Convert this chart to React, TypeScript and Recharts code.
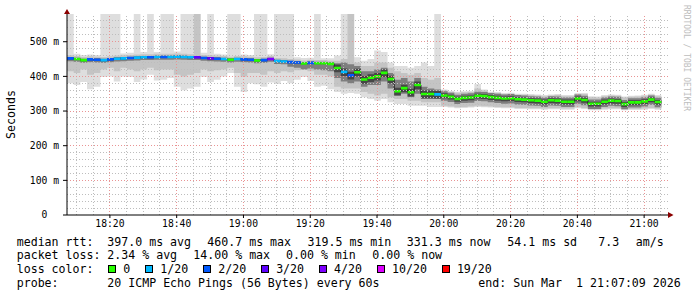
import { Area, ComposedChart, Line, ReferenceDot, ReferenceLine, XAxis, YAxis } from "recharts";

// minutes are counted from the graph start, 18:07:09 (end 21:07:09)
const START_MIN = 18 * 60 + 7 + 9 / 60;
const STEP_MIN = 2;

const timeTicks = ["18:20", "18:40", "19:00", "19:20", "19:40", "20:00", "20:20", "20:40", "21:00"];
const yTicks = [0, 100, 200, 300, 400, 500];

const lossLabels = ["0", "1/20", "2/20", "3/20", "4/20", "10/20", "19/20"];
const lossColors = ["#26ff00", "#00b8ff", "#0059ff", "#5e00ff", "#7e00ff", "#dd00ff", "#ff0000"];

// median rtt in ms, one value per 2 minutes
const median = [
  452, 450, 447, 449, 448, 447, 449, 451, 452, 453,
  454, 455, 455, 456, 456, 456, 457, 456, 455, 455,
  453, 452, 451, 450, 448, 450, 449, 448, 446, 447,
  450, 444, 443, 441, 440, 437, 439, 438, 438, 436,
  424, 413, 403, 412, 391, 396, 400, 410, 392, 357,
  366, 354, 375, 349, 349, 348, 345, 341, 335, 338,
  339, 344, 343, 340, 338, 336, 337, 334, 333, 331,
  330, 327, 331, 330, 327, 327, 336, 332, 321, 321,
  327, 330, 329, 320, 325, 325, 328, 333, 326,
];

// index into lossLabels / lossColors
const lossLevel = [
  2, 0, 0, 2, 2, 1, 2, 1, 1, 2,
  1, 1, 2, 1, 2, 1, 1, 1, 1, 3,
  2, 3, 2, 1, 0, 1, 2, 2, 0, 2,
  4, 1, 1, 2, 2, 0, 2, 0, 0, 0,
  0, 1, 2, 0, 0, 0, 0, 0, 0, 0,
  0, 0, 0, 0, 0, 1, 0, 0, 0, 0,
  0, 0, 0, 0, 0, 0, 0, 0, 0, 0,
  0, 0, 0, 0, 0, 0, 0, 0, 0, 0,
  0, 0, 0, 0, 0, 0, 0, 0, 0,
];

// smoke: ping spread in ms, from the outer (lightest) to the core (darkest) band
const smokeMax = [
  580, 465, 462, 463, 462, 580, 580, 580, 466, 468,
  580, 470, 580, 470, 580, 580, 472, 580, 580, 580,
  468, 580, 465, 463, 580, 580, 463, 462, 580, 580,
  464, 580, 580, 580, 455, 453, 454, 580, 452, 452,
  460, 580, 580, 455, 445, 450, 475, 470, 440, 430,
  430, 425, 430, 440, 430, 580, 362, 358, 356, 357,
  358, 378, 362, 356, 355, 352, 353, 350, 350, 349,
  348, 346, 348, 349, 346, 346, 352, 352, 343, 342,
  346, 348, 347, 342, 344, 345, 347, 350, 346,
];
const smokeMin = [
  380, 375, 384, 363, 370, 398, 400, 385, 400, 398,
  384, 391, 405, 388, 390, 395, 370, 360, 365, 370,
  398, 384, 390, 400, 410, 370, 355, 380, 377, 370,
  382, 378, 387, 380, 390, 398, 387, 370, 373, 363,
  355, 350, 352, 350, 340, 335, 330, 335, 325, 320,
  320, 315, 315, 315, 312, 312, 312, 310, 308, 309,
  310, 312, 311, 310, 309, 308, 308, 306, 306, 305,
  305, 304, 305, 305, 304, 304, 308, 306, 302, 302,
  304, 305, 305, 302, 303, 303, 304, 306, 304,
];
const midHi = [
  461, 459, 456, 458, 457, 456, 458, 460, 461, 462,
  463, 464, 464, 465, 465, 465, 466, 465, 464, 580,
  462, 461, 460, 459, 457, 459, 458, 457, 455, 456,
  459, 453, 452, 450, 449, 446, 448, 447, 447, 445,
  445, 450, 580, 440, 430, 430, 440, 440, 425, 415,
  410, 405, 410, 395, 390, 395, 359, 355, 353, 354,
  355, 365, 359, 353, 352, 349, 350, 347, 347, 346,
  345, 343, 345, 346, 343, 343, 349, 349, 340, 339,
  343, 345, 344, 339, 341, 342, 344, 347, 343,
];
const midLo = [
  415, 410, 420, 405, 410, 420, 425, 415, 425, 420,
  415, 420, 425, 418, 420, 420, 405, 400, 405, 410,
  420, 415, 418, 420, 425, 410, 400, 410, 410, 405,
  415, 410, 415, 412, 418, 420, 415, 405, 405, 400,
  370, 365, 365, 365, 355, 350, 345, 350, 340, 335,
  335, 330, 330, 325, 325, 325, 315, 313, 311, 312,
  313, 315, 314, 313, 312, 311, 311, 309, 309, 308,
  308, 307, 308, 308, 307, 307, 311, 309, 305, 305,
  307, 308, 308, 305, 306, 306, 307, 309, 307,
];
const darkHi = [
  456, 454, 451, 453, 452, 451, 453, 455, 456, 457,
  458, 459, 459, 460, 460, 460, 461, 460, 459, 459,
  457, 456, 455, 454, 452, 454, 453, 452, 450, 451,
  454, 448, 447, 445, 444, 441, 443, 442, 442, 440,
  438, 440, 435, 430, 415, 415, 420, 425, 410, 390,
  395, 385, 395, 370, 365, 362, 357, 353, 347, 350,
  351, 356, 355, 352, 350, 348, 349, 346, 345, 343,
  342, 339, 343, 342, 339, 339, 348, 344, 333, 333,
  339, 342, 341, 332, 337, 337, 340, 345, 338,
];
const darkLo = [
  444, 442, 439, 441, 440, 439, 441, 443, 444, 445,
  446, 447, 447, 448, 448, 448, 449, 448, 447, 447,
  445, 444, 443, 442, 440, 442, 441, 440, 438, 439,
  442, 436, 435, 428, 425, 420, 423, 420, 418, 415,
  395, 385, 380, 385, 370, 375, 375, 385, 365, 345,
  350, 340, 350, 335, 335, 335, 330, 326, 320, 323,
  324, 329, 328, 325, 323, 321, 322, 319, 318, 316,
  315, 312, 316, 315, 312, 312, 321, 317, 306, 306,
  312, 315, 314, 305, 310, 310, 313, 318, 311,
];
const coreHi = [
  455, 453, 450, 452, 451, 450, 452, 454, 455, 456,
  457, 458, 458, 459, 459, 459, 460, 459, 458, 458,
  456, 455, 454, 453, 451, 453, 452, 451, 449, 450,
  453, 447, 446, 444, 443, 440, 442, 441, 441, 439,
  434, 423, 413, 422, 401, 406, 410, 420, 402, 367,
  376, 364, 385, 359, 359, 358, 351, 347, 341, 344,
  345, 350, 349, 346, 344, 342, 343, 340, 339, 337,
  336, 333, 337, 336, 333, 333, 342, 338, 327, 327,
  333, 336, 335, 326, 331, 331, 334, 339, 332,
];
const coreLo = [
  449, 447, 444, 446, 445, 444, 446, 448, 449, 450,
  451, 452, 452, 453, 453, 453, 454, 453, 452, 452,
  450, 449, 448, 447, 445, 447, 446, 445, 443, 444,
  447, 441, 440, 438, 437, 434, 436, 435, 435, 433,
  412, 401, 391, 400, 379, 384, 388, 398, 380, 345,
  354, 342, 363, 337, 337, 336, 337, 333, 327, 330,
  331, 336, 335, 332, 330, 328, 329, 326, 325, 323,
  322, 319, 323, 322, 319, 319, 328, 324, 313, 313,
  319, 322, 321, 312, 317, 317, 320, 325, 318,
];

const MONO = "'DejaVu Sans Mono', monospace";

function clockToMin(label: string): number {
  const [h, m] = label.split(":").map(Number);
  return h * 60 + m - START_MIN;
}

const tickValues = timeTicks.map(clockToMin);

// grid: minor every 5 min / 20 ms, major at the labelled ticks
const minorX: number[] = [];
for (let m = 18 * 60 + 10; m <= 21 * 60 + 5; m += 5) minorX.push(m - START_MIN);
const minorY: number[] = [];
for (let v = 20; v < 580; v += 20) if (v % 100 !== 0) minorY.push(v);

const levels = [0, 1, 2, 3, 4];
const phases = [0, 1, 2];

// each median step gets its own short segment; spreading them over 3 series per
// colour keeps neighbouring steps from being joined by a coloured riser
const rows = Array.from({ length: median.length + 1 }, (_, i) => {
  const j = Math.min(i, median.length - 1);
  const row: Record<string, unknown> = {
    t: i * STEP_MIN,
    light: [smokeMin[j], smokeMax[j]],
    mid: [midLo[j], midHi[j]],
    dark: [darkLo[j], darkHi[j]],
    core: [coreLo[j], coreHi[j]],
    median: median[j],
  };
  for (const lvl of levels) {
    for (const ph of phases) {
      const cur = i < median.length && lossLevel[i] === lvl && i % 3 === ph;
      const prev = i > 0 && lossLevel[i - 1] === lvl && (i - 1) % 3 === ph;
      row[`c${lvl}_${ph}`] = cur ? median[i] : prev ? median[i - 1] : null;
    }
  }
  return row;
});

const textStyle = {
  position: "absolute" as const,
  fontFamily: MONO,
  fontSize: 11.6,
  lineHeight: "14px",
  whiteSpace: "pre" as const,
  color: "#000",
};

function Txt({ x, top, children }: { x: number; top: number; children: string }) {
  return <span style={{ ...textStyle, left: x, top }}>{children}</span>;
}

const ROW_TOP = [234.5, 248, 261.8, 275.5];

const smokeBands = [
  { key: "light", fill: "#dedede" },
  { key: "mid", fill: "#c4c4c4" },
  { key: "dark", fill: "#7e7e7e" },
  { key: "core", fill: "#464646" },
];

const MINOR = "#bdbdbd";
const MAJOR = "#e99494";

export default function App() {
  return (
    <div
      style={{
        position: "absolute",
        left: 0,
        top: 0,
        width: 697,
        height: 297,
        background: "#fff",
        overflow: "hidden",
      }}
    >
      <ComposedChart
        width={697}
        height={297}
        data={rows}
        margin={{ top: 14, right: 29, bottom: 62, left: 0 }}
      >
        <XAxis
          type="number"
          dataKey="t"
          domain={[0, 180]}
          ticks={tickValues}
          tickFormatter={(v) => timeTicks[tickValues.indexOf(Number(v))] ?? ""}
          allowDataOverflow
          height={20}
          tick={{ fill: "#000", fontSize: 9.7, fontFamily: MONO }}
          tickSize={3}
          tickMargin={2}
          tickLine={{ stroke: "#000" }}
          axisLine={{ stroke: "#000" }}
        />
        <YAxis
          type="number"
          domain={[0, 580]}
          ticks={yTicks}
          allowDataOverflow
          width={67}
          tickFormatter={(v) => (Number(v) === 0 ? "0\u00a0\u00a0" : `${v} m`)}
          tick={{ fill: "#000", fontSize: 9.7, fontFamily: MONO }}
          tickSize={4}
          tickMargin={4}
          tickLine={{ stroke: "#000" }}
          axisLine={{ stroke: "#000" }}
          label={{
            value: "Seconds",
            angle: -90,
            position: "insideLeft",
            offset: 11,
            fill: "#000",
            fontSize: 11.6,
            fontFamily: MONO,
            style: { textAnchor: "middle" },
          }}
        />

        {smokeBands.map((b) => (
          <Area
            key={b.key}
            type="stepAfter"
            dataKey={b.key}
            fill={b.fill}
            fillOpacity={1}
            stroke="none"
            dot={false}
            activeDot={false}
            isAnimationActive={false}
          />
        ))}

        <Line type="stepAfter" dataKey="median" stroke="#202020" strokeWidth={1} dot={false} activeDot={false} isAnimationActive={false} />

        {levels.flatMap((lvl) =>
          phases.map((ph) => (
            <Line
              key={`c${lvl}_${ph}`}
              type="stepAfter"
              dataKey={`c${lvl}_${ph}`}
              stroke={lossColors[lvl]}
              strokeWidth={2.6}
              dot={false}
              activeDot={false}
              connectNulls={false}
              isAnimationActive={false}
            />
          )),
        )}

        {minorY.map((v) => (
          <ReferenceLine key={`hy${v}`} y={v} stroke={MINOR} strokeDasharray="1 2" shapeRendering="crispEdges" />
        ))}
        {minorX.map((v) => (
          <ReferenceLine key={`hx${v}`} x={v} stroke={MINOR} strokeDasharray="1 2" shapeRendering="crispEdges" />
        ))}
        {yTicks.slice(1).map((v) => (
          <ReferenceLine key={`my${v}`} y={v} stroke={MAJOR} strokeDasharray="1 2" shapeRendering="crispEdges" />
        ))}
        {tickValues.map((v) => (
          <ReferenceLine key={`mx${v}`} x={v} stroke={MAJOR} strokeDasharray="1 2" shapeRendering="crispEdges" />
        ))}

        <ReferenceDot
          x={180}
          y={0}
          shape={(p: { cx?: number; cy?: number }) => (
            <polygon
              points={`${p.cx},${(p.cy ?? 0) - 3} ${p.cx},${(p.cy ?? 0) + 3} ${(p.cx ?? 0) + 5.5},${p.cy}`}
              fill="#8b0000"
            />
          )}
        />
        <ReferenceDot
          x={0}
          y={580}
          shape={(p: { cx?: number; cy?: number }) => (
            <polygon
              points={`${(p.cx ?? 0) - 3},${p.cy} ${(p.cx ?? 0) + 3},${p.cy} ${p.cx},${(p.cy ?? 0) - 5}`}
              fill="#8b0000"
            />
          )}
        />
      </ComposedChart>

      <div
        style={{
          position: "absolute",
          left: 682,
          top: 5,
          writingMode: "vertical-rl",
          fontFamily: MONO,
          fontSize: 8,
          lineHeight: "9px",
          color: "#bdbdbd",
          whiteSpace: "pre",
        }}
      >
        RRDTOOL / TOBI OETIKER
      </div>

      <Txt x={16.7} top={ROW_TOP[0]}>median rtt:</Txt>
      <Txt x={107.3} top={ROW_TOP[0]}>397.0 ms avg</Txt>
      <Txt x={207.3} top={ROW_TOP[0]}>460.7 ms max</Txt>
      <Txt x={307.5} top={ROW_TOP[0]}>319.5 ms min</Txt>
      <Txt x={406.8} top={ROW_TOP[0]}>331.3 ms now</Txt>
      <Txt x={507.3} top={ROW_TOP[0]}>54.1 ms sd</Txt>
      <Txt x={598.3} top={ROW_TOP[0]}>7.3</Txt>
      <Txt x={635.7} top={ROW_TOP[0]}>am/s</Txt>

      <Txt x={16.7} top={ROW_TOP[1]}>packet loss:</Txt>
      <Txt x={107.3} top={ROW_TOP[1]}>2.34 % avg</Txt>
      <Txt x={193.3} top={ROW_TOP[1]}>14.00 % max</Txt>
      <Txt x={286} top={ROW_TOP[1]}>0.00 % min</Txt>
      <Txt x={372.3} top={ROW_TOP[1]}>0.00 % now</Txt>

      <Txt x={16.7} top={ROW_TOP[2]}>loss color:</Txt>
      <div style={{ position: "absolute", left: 108.3, top: ROW_TOP[2], display: "flex", alignItems: "center", height: 14 }}>
        {lossLabels.map((lab, k) => (
          <div key={lab} style={{ display: "flex", alignItems: "center", marginRight: 15 }}>
            <div
              style={{
                width: 8,
                height: 8,
                boxSizing: "border-box",
                border: "1px solid #000",
                background: lossColors[k],
                marginRight: 7,
              }}
            />
            <span style={{ fontFamily: MONO, fontSize: 11.6, lineHeight: "14px", whiteSpace: "pre" }}>{lab}</span>
          </div>
        ))}
      </div>

      <Txt x={16.7} top={ROW_TOP[3]}>probe:</Txt>
      <Txt x={107.3} top={ROW_TOP[3]}>20 ICMP Echo Pings (56 Bytes) every 60s</Txt>
      <Txt x={478.3} top={ROW_TOP[3]}>end: Sun Mar  1 21:07:09 2026</Txt>
    </div>
  );
}
